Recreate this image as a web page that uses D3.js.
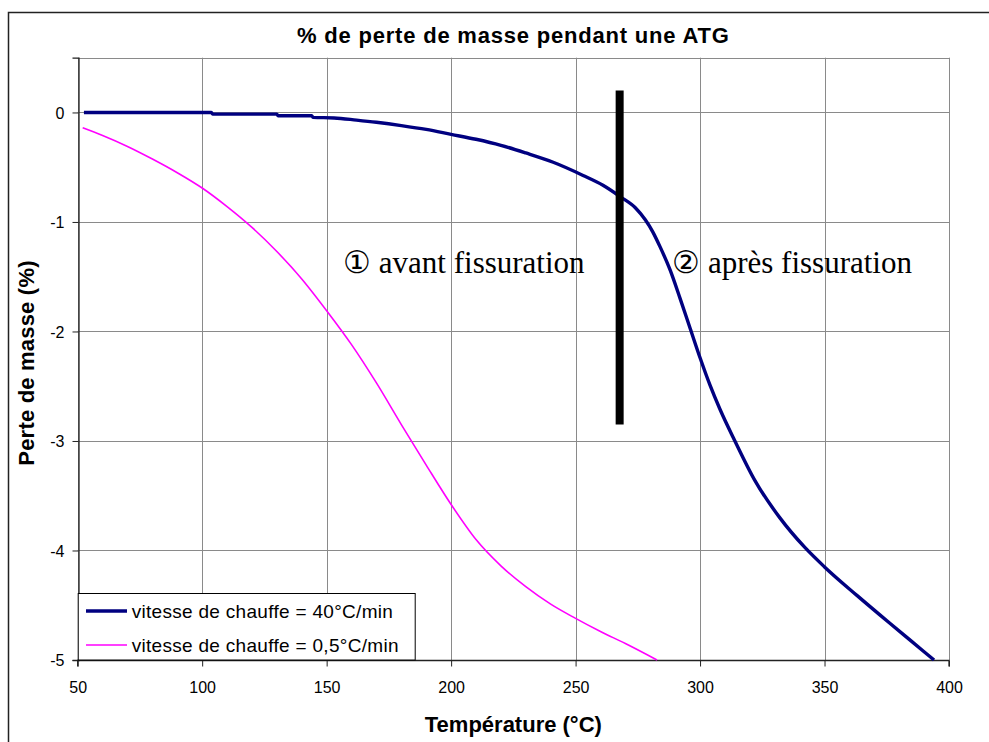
<!DOCTYPE html>
<html>
<head>
<meta charset="utf-8">
<script src="https://cdn.jsdelivr.net/npm/d3@7/dist/d3.min.js"></script>
<style>
  html, body { margin: 0; padding: 0; background: #fff; }
  svg { display: block; }
</style>
</head>
<body>
<svg id="chart" width="989" height="742"></svg>
<script>
// ---------------- DATA ----------------
const chartTitle = "% de perte de masse pendant une ATG";
const xTitle = "Température (°C)";
const yTitle = "Perte de masse (%)";

const xTicks = [50, 100, 150, 200, 250, 300, 350, 400];
const yTicks = [0, -1, -2, -3, -4, -5];

// Series 1 : vitesse de chauffe = 40°C/min
const fastName = "vitesse de chauffe = 40°C/min";
const fastTemp = [52.5, 103.7, 104.2, 130.0, 130.5, 144.0, 144.5, 153, 162, 170, 180, 190, 200, 210, 220, 230, 241, 253, 261, 268, 274, 278, 281, 284, 288, 292, 296, 300, 304, 308, 314, 322, 332, 342, 350, 363, 376, 385, 394];
const fastLoss = [0, 0, -0.015, -0.015, -0.03, -0.03, -0.045, -0.05, -0.07, -0.09, -0.12, -0.155, -0.2, -0.245, -0.30, -0.37, -0.455, -0.575, -0.665, -0.77, -0.87, -0.98, -1.09, -1.23, -1.44, -1.7, -1.97, -2.24, -2.49, -2.71, -3.0, -3.36, -3.7, -3.97, -4.15, -4.41, -4.66, -4.83, -5.0];

// Series 2 : vitesse de chauffe = 0,5°C/min
const slowName = "vitesse de chauffe = 0,5°C/min";
const slowTemp = [52, 60, 70, 80, 90, 100, 110, 120, 130, 140, 150, 160, 170, 180, 190, 200, 210, 220, 230, 240, 250, 260, 270, 282.7];
const slowLoss = [-0.14, -0.21, -0.31, -0.425, -0.55, -0.69, -0.86, -1.05, -1.27, -1.52, -1.81, -2.12, -2.47, -2.85, -3.22, -3.58, -3.9, -4.14, -4.33, -4.49, -4.62, -4.74, -4.85, -5.0];

// Separator bar (fissuration) : temperature, top value, bottom value
const barTemp = 267.7;
const barRange = [0.2, -2.85];

// Annotations
const annotTexts = ["\u2460 avant fissuration", "\u2461 après fissuration"];
const annotTemps = [156.6, 288.8];
const annotLoss = [-1.47, -1.47];

// ---------------- LAYOUT ----------------
const W = 989, H = 742;
const plot = { left: 77.7, right: 949, top: 57.7, bottom: 660 };
const sans = "'Liberation Sans', Arial, sans-serif";
const serif = "'Liberation Serif', 'Times New Roman', serif";

const svg = d3.select("#chart");
svg.append("rect").attr("width", W).attr("height", H).attr("fill", "#fff");

// outer frame
svg.append("rect")
  .attr("x", 8.5).attr("y", 12.5).attr("width", W + 10).attr("height", H + 10)
  .attr("fill", "none").attr("stroke", "#222").attr("stroke-width", 1.5);

const x = d3.scaleLinear().domain([50, 400]).range([plot.left, plot.right]);
const y = d3.scaleLinear().domain([-5, 0.5]).range([plot.bottom, plot.top]);

// gridlines
const grid = svg.append("g").attr("stroke", "#8a8a8a").attr("stroke-width", 1);
xTicks.forEach(t => {
  grid.append("line")
    .attr("x1", Math.round(x(t)) + 0.5).attr("x2", Math.round(x(t)) + 0.5)
    .attr("y1", plot.top).attr("y2", plot.bottom);
});
yTicks.concat([0.5]).forEach(t => {
  grid.append("line")
    .attr("x1", plot.left).attr("x2", plot.right)
    .attr("y1", Math.round(y(t)) + 0.5).attr("y2", Math.round(y(t)) + 0.5);
});

// axes
const fmt = d => String(d);
const xAxis = d3.axisBottom(x).tickValues(xTicks).tickSize(6).tickPadding(15).tickFormat(fmt);
const yAxis = d3.axisLeft(y).tickValues(yTicks).tickSize(6).tickPadding(8).tickFormat(fmt);

const gx = svg.append("g").attr("transform", `translate(0,${Math.round(plot.bottom) + 0.5})`).call(xAxis);
const gy = svg.append("g").attr("transform", `translate(${Math.round(plot.left) + 0.5},0)`).call(yAxis);
[gx, gy].forEach(g => {
  g.select(".domain").attr("stroke", "#222").attr("stroke-width", 1.3);
  g.selectAll(".tick line").attr("stroke", "#222").attr("stroke-width", 1);
  g.selectAll(".tick text").attr("font-family", sans).attr("font-size", 16).attr("fill", "#000");
});
gx.select(".domain").attr("d", `M${plot.left},6V0H${plot.right}V6`);
gy.selectAll(".tick text").attr("dy", "0.36em");

// lines
const lineGen = d3.line().x(d => x(d[0])).y(d => y(d[1])).curve(d3.curveMonotoneX);
const slowData = slowTemp.map((t, i) => [t, slowLoss[i]]);
const fastData = fastTemp.map((t, i) => [t, fastLoss[i]]);

svg.append("path").datum(slowData).attr("d", lineGen)
  .attr("fill", "none").attr("stroke", "#ff00ff").attr("stroke-width", 1.6);
svg.append("path").datum(fastData).attr("d", lineGen)
  .attr("fill", "none").attr("stroke", "#000080").attr("stroke-width", 3.4);

// separator bar
svg.append("line")
  .attr("x1", x(barTemp)).attr("x2", x(barTemp))
  .attr("y1", y(barRange[0])).attr("y2", y(barRange[1]))
  .attr("stroke", "#000").attr("stroke-width", 8);

// annotations
annotTexts.forEach((txt, i) => {
  svg.append("text")
    .attr("x", x(annotTemps[i])).attr("y", y(annotLoss[i]))
    .attr("font-family", serif).attr("font-size", 31).attr("fill", "#000")
    .text(txt);
});

// legend
const leg = svg.append("g");
leg.append("rect")
  .attr("x", plot.left + 0.5).attr("y", 593.5).attr("width", 337).attr("height", plot.bottom - 593.5)
  .attr("fill", "#fff").attr("stroke", "#000").attr("stroke-width", 1);
const legItems = [
  { name: fastName, color: "#000080", w: 3.4, yy: 611 },
  { name: slowName, color: "#ff00ff", w: 1.6, yy: 645 }
];
legItems.forEach(it => {
  leg.append("line").attr("x1", 86).attr("x2", 127).attr("y1", it.yy).attr("y2", it.yy)
    .attr("stroke", it.color).attr("stroke-width", it.w);
  leg.append("text").attr("x", 131.7).attr("y", it.yy + 6.5)
    .attr("font-family", sans).attr("font-size", 19).attr("letter-spacing", 0.3).attr("fill", "#000")
    .text(it.name);
});

// titles
svg.append("text").attr("x", (plot.left + plot.right) / 2).attr("y", 43)
  .attr("text-anchor", "middle").attr("font-family", sans).attr("font-weight", "bold")
  .attr("font-size", 22).attr("letter-spacing", 0.8).attr("fill", "#000").text(chartTitle);
svg.append("text").attr("x", (plot.left + plot.right) / 2).attr("y", 732)
  .attr("text-anchor", "middle").attr("font-family", sans).attr("font-weight", "bold")
  .attr("font-size", 22).attr("fill", "#000").text(xTitle);
svg.append("text").attr("transform", "translate(34,363) rotate(-90)")
  .attr("text-anchor", "middle").attr("font-family", sans).attr("font-weight", "bold")
  .attr("font-size", 22).attr("letter-spacing", 0.2).attr("fill", "#000").text(yTitle);
</script>
</body>
</html>
